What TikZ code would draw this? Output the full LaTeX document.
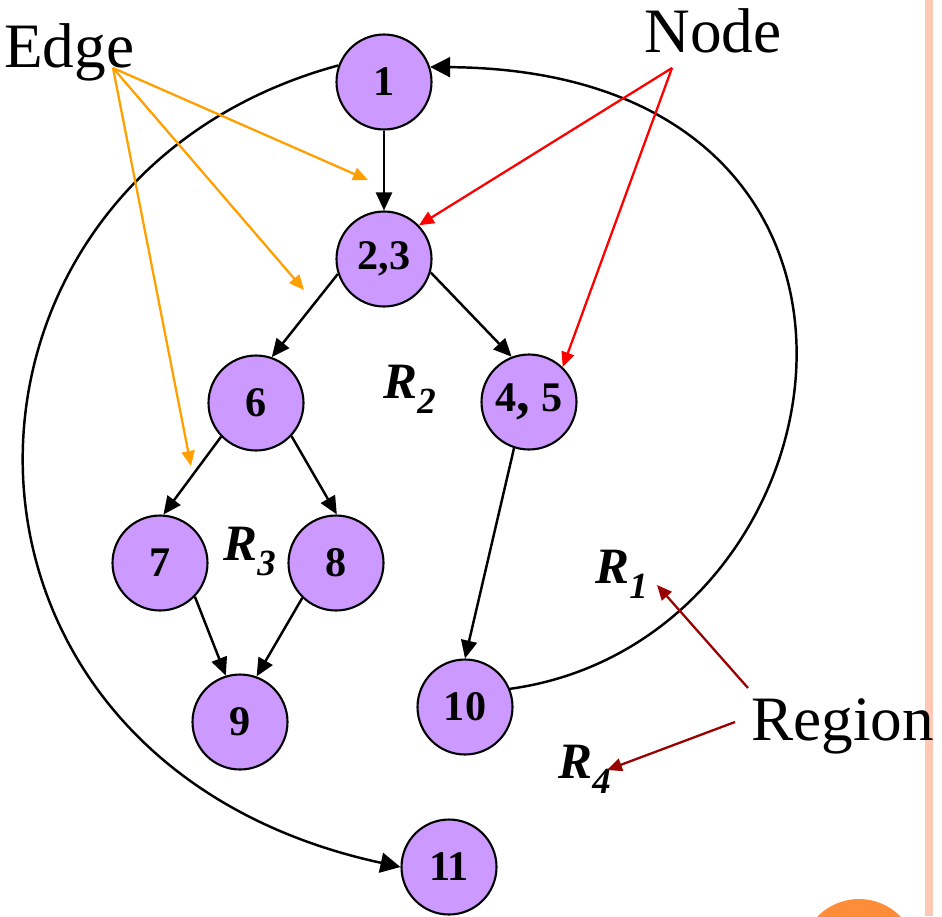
\documentclass[tikz,border=0pt]{standalone}
\usepackage{fontspec}
\setmainfont{Liberation Serif}
\usetikzlibrary{arrows.meta, positioning}

\definecolor{vertexfill}{RGB}{204,153,255}
\definecolor{edgeorange}{RGB}{255,160,0}
\definecolor{regionred}{RGB}{153,0,0}
\definecolor{sidebar}{RGB}{255,200,180}
\definecolor{cornerdot}{RGB}{255,140,56}

\newcommand{\regname}[1]{\textbf{\textit{R\raisebox{-9pt}{\fontsize{21}{21}\selectfont #1}}}}

\begin{document}
\begin{tikzpicture}[
    x=0.02cm, y=-0.02cm,
    vertex/.style={draw, circle, fill=vertexfill, line width=1.2pt, minimum size=1.9cm, inner sep=0pt, font=\fontsize{24}{24}\selectfont\bfseries},
    arrow/.style={-{Triangle[length=0.36cm, width=0.32cm]}, line width=1.4pt},
    bigarrow/.style={-{Triangle[length=0.4cm, width=0.4cm]}, line width=1.4pt},
    callout/.style={font=\fontsize{36}{36}\selectfont, inner sep=0pt},
    regionlbl/.style={font=\fontsize{29}{29}\selectfont, inner sep=0pt},
    edgeptr/.style={-{Triangle[length=0.3cm, width=0.26cm]}, edgeorange, line width=1.3pt},
    nodeptr/.style={-{Triangle[length=0.3cm, width=0.26cm]}, red, line width=1.3pt},
    regionptr/.style={-{Triangle[length=0.3cm, width=0.26cm]}, regionred, line width=1.3pt}
]
\useasboundingbox (0,0) rectangle (942,916);

% side bar and corner dot
\fill[sidebar] (925,0) rectangle (933,916);
\fill[cornerdot] (859,957) circle (1.16cm);

% flow graph
\node[vertex] (one) at (384,82) {1};
\node[vertex] (two) at (384,259) {2,3};
\node[vertex] (six) at (256,403) {6};
\node[vertex] (four) at (529,402) {4{\fontsize{31}{31}\selectfont,} 5};
\node[vertex] (seven) at (160,563) {7};
\node[vertex] (eight) at (336,563) {8};
\node[vertex] (nine) at (240,722) {9};
\node[vertex] (ten) at (465,707) {10};
\node[vertex] (eleven) at (449,867) {11};

\draw[arrow] (one.south) -- (two.north);
\draw[arrow] (two.198) -- (six.71);
\draw[arrow] (two.344) -- (four.111);
\draw[arrow] (six.224) -- (seven.86);
\draw[arrow] (six.317) -- (eight.89);
\draw[arrow] (seven.316) -- (nine.107);
\draw[arrow] (eight.226) -- (nine.70);
\draw[arrow] (four.252) -- (ten.north);
\draw[bigarrow] (ten.22) .. controls +(347,-48) and +(517,4) .. (one.18);
\draw[bigarrow] (one.160) .. controls +(-423,115) and +(-495,-107) .. (eleven.west);

% regions
\node[regionlbl, anchor=base west] (rtwo) at (383,398) {\regname{2}};
\node[regionlbl, anchor=base west] (rthree) at (223,560) {\regname{3}};
\node[regionlbl, anchor=base west] (rone) at (595,583) {\regname{1}};
\node[regionlbl, anchor=base west] (rfour) at (558,778) {\regname{4}};

% callouts
\node[callout, anchor=base west] (edgelbl) at (4,67) {Edge};
\node[callout, anchor=base west] (nodelbl) at (644,52) {Node};
\node[callout, anchor=base west] (regionlbl) at (751,740) {Region};

\coordinate (edgefoot) at (113,68);
\coordinate (nodefoot) at (672,68);
\coordinate (regfootA) at (748,688);
\coordinate (regfootB) at (735,722);
\coordinate (edgetipA) at (368,180);
\coordinate (edgetipB) at (304,290);
\coordinate (edgetipC) at (191,466);
\coordinate (regtipA) at (657,585);
\coordinate (regtipB) at (607,770);

\draw[edgeptr] (edgefoot) -- (edgetipA);
\draw[edgeptr] (edgefoot) -- (edgetipB);
\draw[edgeptr] (edgefoot) -- (edgetipC);
\draw[nodeptr] (nodefoot) -- (two.44);
\draw[nodeptr] (nodefoot) -- (four.46);
\draw[regionptr] (regfootA) -- (regtipA);
\draw[regionptr] (regfootB) -- (regtipB);

\end{tikzpicture}
\end{document}
